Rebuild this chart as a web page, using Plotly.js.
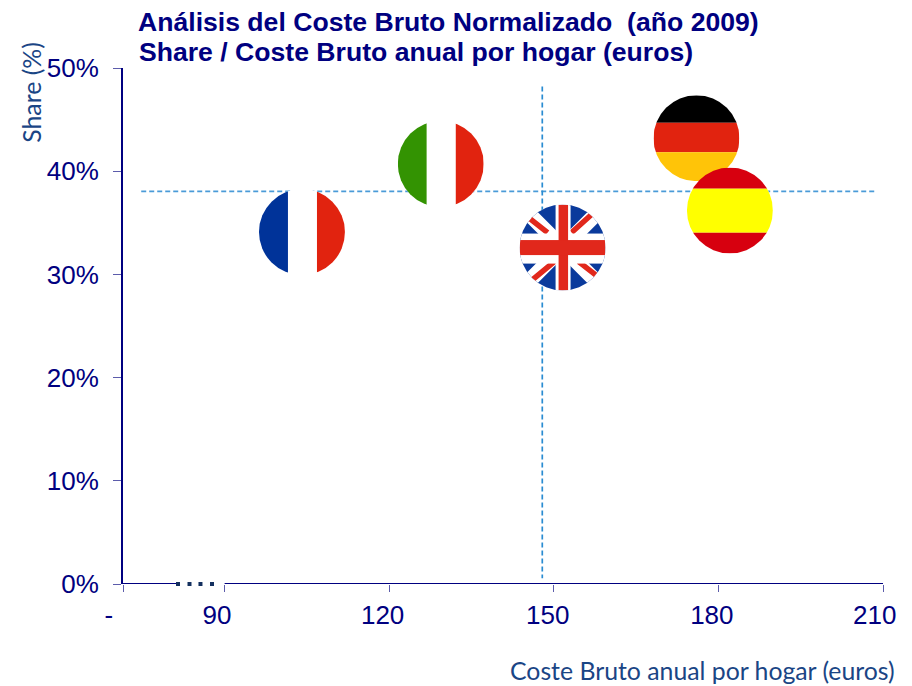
<!DOCTYPE html>
<html><head><meta charset="utf-8">
<script src="https://cdn.plot.ly/plotly-3.0.1.min.js"></script>
<style>html,body{margin:0;padding:0;background:#fff}#c{width:912px;height:686px}</style>
</head><body><div id="c"></div>
<script>
const countries = ['France','Italy','United Kingdom','Germany','Spain'];
const costs = [104.1,129.4,151.6,176.0,182.1];
const shares = [34.1,40.7,32.6,43.2,36.2];
const meanCost = 147.9;
const meanShare = 38.05;
const xTicks = [71.48,90,120,150,180,210];
const xLabels = ['-','90','120','150','180','210'];
const xLabelAt = [68.9,88.6,118.8,148.9,178.8,208.5];
const yTicks = [0,10,20,30,40,50];
const yLabels = ['0%','10%','20%','30%','40%','50%'];
const breakDots = [81.5,83.6,85.6,87.7];
const titleLine1 = 'Análisis del Coste Bruto Normalizado  (año 2009)';
const titleLine2 = 'Share / Coste Bruto anual por hogar (euros)';

const NAVY='#000080', TICK='#5c5cab';
const pxX=5.487, pxY=10.31, D=86;
const L=60, R=883, T=68.3, B=583.7, W=912, H=686;
const xMin=71.48;

function svg(body){
  const s=`<svg xmlns="http://www.w3.org/2000/svg" width="344" height="344" viewBox="0 0 86 86"><defs><clipPath id="k"><circle cx="43" cy="43" r="43"/></clipPath></defs><g clip-path="url(#k)">${body}</g></svg>`;
  return 'data:image/svg+xml;base64,'+btoa(s);
}
const r=(x,y,w,h,c)=>`<rect x="${x}" y="${y}" width="${w}" height="${h}" fill="${c}"/>`;
const ukFlag=r(0,0,86,86,'#0a3a9c')
 +'<path d="M0 0L86 86M86 0L0 86" stroke="#fff" stroke-width="15"/>'
 +'<path d="M9 13L28 28M72 10L52 28M13 75L36 56M59 57L77 71" stroke="#e1281c" stroke-width="5.5"/>'
 +r(36,0,15,86,'#fff')+r(0,29,86,30,'#fff')
 +r(39,0,9.5,86,'#e1281c')+r(0,35.5,86,15,'#e1281c');
const flags={
 'France':r(0,0,29,86,'#003399')+r(29,0,29,86,'#fff')+r(58,0,28,86,'#e1230f'),
 'Italy':r(0,0,29,86,'#339302')+r(29,0,29,86,'#fff')+r(58,0,28,86,'#e1230f'),
 'United Kingdom':ukFlag,
 'Germany':r(0,0,86,27.6,'#000')+r(0,27.6,86,29.4,'#e1230f')+r(0,57,86,29,'#ffc408'),
 'Spain':r(0,0,86,21.3,'#d7000f')+r(0,21.3,86,44,'#ffff00')+r(0,65.3,86,21,'#d7000f')
};

const traces=[
 {x:[74.8,208.7],y:[meanShare,meanShare],mode:'lines',line:{color:'#4a9bd8',width:1.7,dash:'5px,3px'},hoverinfo:'skip',showlegend:false},
 {x:[meanCost,meanCost],y:[48.2,0.55],mode:'lines',line:{color:'#2a8cd2',width:1.7,dash:'5px,3px'},hoverinfo:'skip',showlegend:false},
 {x:[xMin,81.3,null,90,210],y:[0,0,null,0,0],mode:'lines',line:{color:NAVY,width:2},cliponaxis:false,hoverinfo:'skip',showlegend:false},
 {x:breakDots,y:breakDots.map(()=>0),mode:'markers',marker:{symbol:'square',size:4,color:'#14305f'},cliponaxis:false,hoverinfo:'skip',showlegend:false},
 {x:costs,y:shares,text:countries,mode:'markers',marker:{size:D,color:'#ffffff',line:{width:0}},hoverinfo:'text',showlegend:false},
 {x:[xMin],y:[0],xaxis:'x2',yaxis:'y',mode:'markers',marker:{opacity:0,size:1},hoverinfo:'skip',showlegend:false}
];
const font={family:'"Liberation Sans",Arial,sans-serif',size:26,color:NAVY};
const titleFont={family:'"Liberation Sans",Arial,sans-serif',size:26.6,color:NAVY,weight:'bold'};
const labelFont={family:'Lato,sans-serif',size:24.8,color:'#1a4585'};
const layout={
 width:W,height:H,paper_bgcolor:'#fff',plot_bgcolor:'rgba(0,0,0,0)',showlegend:false,
 margin:{l:L,r:W-R,t:T,b:H-B,pad:0},
 xaxis:{domain:[(123-L)/(R-L),1],range:[xMin,210],anchor:'y',tickmode:'array',tickvals:xTicks,showticklabels:false,ticks:'outside',ticklen:7,tickwidth:1,tickcolor:TICK,showline:false,showgrid:false,zeroline:false},
 xaxis2:{domain:[0,1],range:[xMin-(123-L)/pxX,210],anchor:'y',side:'bottom',tickmode:'array',tickvals:xLabelAt,ticktext:xLabels,ticks:'',ticklabelstandoff:13,tickfont:font,showline:false,showgrid:false,zeroline:false},
 yaxis:{range:[0,50],domain:[0,1],anchor:'x',tickmode:'array',tickvals:yTicks,ticktext:yLabels,ticks:'outside',ticklen:8,tickwidth:1,tickcolor:TICK,ticklabelstandoff:9,tickfont:font,showline:true,linecolor:NAVY,linewidth:2,showgrid:false,zeroline:false},
 title:{text:titleLine1,x:138/W,xanchor:'left',y:1-12/H,yanchor:'top',font:titleFont},
 annotations:[
  {text:titleLine2,xref:'paper',yref:'paper',x:(138-L)/(R-L),y:(B-52)/(B-T),xanchor:'left',yanchor:'middle',xshift:-1,showarrow:false,font:titleFont},
  {text:'Share (%)',xref:'paper',yref:'paper',x:(32-L)/(R-L),y:(B-93)/(B-T),xanchor:'center',yanchor:'middle',textangle:-90,showarrow:false,font:labelFont},
  {text:'Coste Bruto anual por hogar (euros)',xref:'paper',yref:'paper',x:(897-L)/(R-L),y:(B-670)/(B-T),xanchor:'right',yanchor:'middle',showarrow:false,font:labelFont}
 ],
 images:countries.map((c,i)=>({source:svg(flags[c]),xref:'x',yref:'y',x:costs[i],y:shares[i],sizex:D/pxX,sizey:D/pxY,sizing:'stretch',xanchor:'center',yanchor:'middle',layer:'above'}))
};
Plotly.newPlot('c',traces,layout,{displayModeBar:false,staticPlot:true});
</script></body></html>
